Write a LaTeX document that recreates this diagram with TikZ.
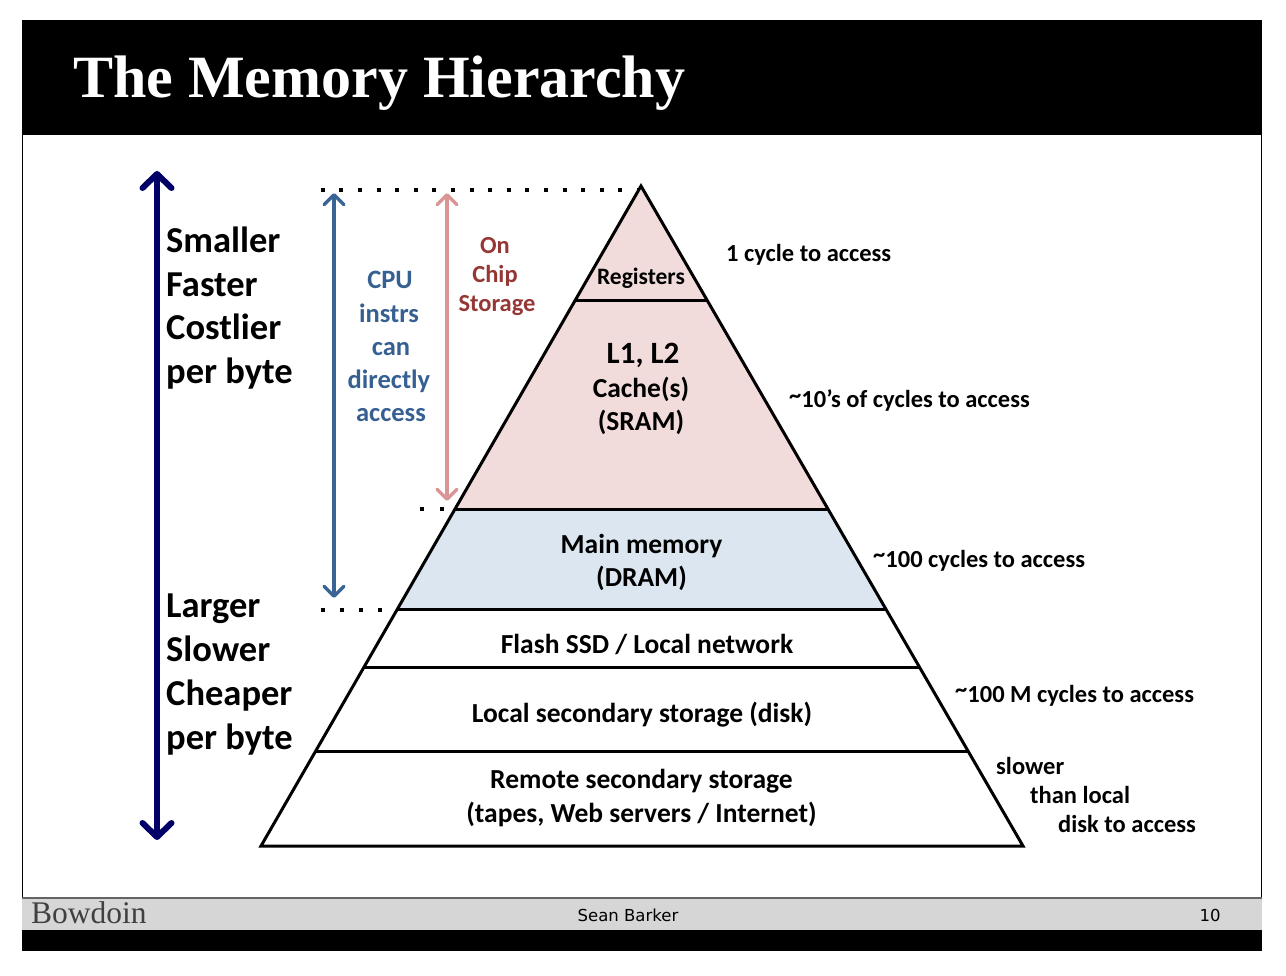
\documentclass[tikz,border=0pt]{standalone}
\usepackage{fontspec}
\setmainfont{Carlito}
\newfontfamily\titlefont{Liberation Serif}
\newfontfamily\footfont{DejaVu Sans}
\usetikzlibrary{arrows.meta}
\definecolor{navyarrow}{RGB}{0,0,102}
\definecolor{bluearrow}{RGB}{58,100,150}
\definecolor{pinkarrow}{RGB}{217,150,148}
\definecolor{redtext}{RGB}{149,55,53}
\definecolor{bluetext}{RGB}{55,96,146}
\definecolor{pinkfill}{RGB}{242,220,219}
\definecolor{bluefill}{RGB}{220,230,241}
\definecolor{footgray}{RGB}{214,214,214}
\definecolor{footline}{RGB}{100,100,100}
\newcommand{\tld}{\raisebox{0.35ex}{\char126}}
\tikzset{
  bigbarb/.tip={Straight Barb[length=14pt,width=29pt,round]},
  smallbarb/.tip={Straight Barb[length=10pt,width=20pt,round]}
}
\begin{document}
\begin{tikzpicture}[x=1pt,y=-1pt,
  sidetxt/.style={anchor=base west,inner sep=0pt,font=\bfseries\fontsize{36.5}{40}\selectfont},
  pyrtxt/.style={anchor=base,inner sep=0pt,font=\bfseries\fontsize{27.5}{30}\selectfont},
  costtxt/.style={anchor=base west,inner sep=0pt,font=\bfseries\fontsize{24.5}{28}\selectfont},
  cputxt/.style={anchor=base,inner sep=0pt,text=bluetext,font=\bfseries\fontsize{26.5}{30}\selectfont},
  chiptxt/.style={anchor=base,inner sep=0pt,text=redtext,font=\bfseries\fontsize{24.5}{28}\selectfont},
  layer/.style={line width=3pt},
  dots/.style={line width=4pt,dash pattern=on 4pt off 14.6pt}
]
\useasboundingbox (0,0) rectangle (1286,976);
% slide frame
\fill[black] (22,20) rectangle (1262,135);
\draw[line width=1.2pt] (22.6,135) -- (22.6,898);
\draw[line width=1.2pt] (1261.4,135) -- (1261.4,898);
\fill[footgray] (22,898) rectangle (1262,930);
\draw[footline,line width=2pt] (22,898) -- (1262,898);
\fill[black] (22,930) rectangle (1262,951);
\node[anchor=base west,inner sep=0pt,text=white,font=\titlefont\bfseries\fontsize{60}{60}\selectfont] (ttl) at (73,98) {The Memory Hierarchy};
\node[anchor=base west,inner sep=0pt,text=black!75,font=\titlefont\fontsize{31.5}{32}\selectfont] (bow) at (31,923) {Bowdoin};
\node[anchor=base,inner sep=0pt,font=\footfont\fontsize{16.5}{18}\selectfont] (auth) at (628,921) {Sean Barker};
\node[anchor=base,inner sep=0pt,font=\footfont\fontsize{16.5}{18}\selectfont] (pnum) at (1210,921) {10};

% pyramid coordinates
\coordinate (apex) at (641,186);
\coordinate (r1l) at (574.8,301); \coordinate (r1r) at (707.6,301);
\coordinate (r2l) at (455,509);   \coordinate (r2r) at (828,509);
\coordinate (r3l) at (397.4,609); \coordinate (r3r) at (885.8,609);
\coordinate (r4l) at (364,667);   \coordinate (r4r) at (919.4,667);
\coordinate (r5l) at (315.7,751); \coordinate (r5r) at (968,751);
\coordinate (bl) at (261,846);    \coordinate (br) at (1023,846);
\fill[pinkfill] (apex) -- (r2r) -- (r2l) -- cycle;
\fill[bluefill] (r2l) -- (r2r) -- (r3r) -- (r3l) -- cycle;
\draw[layer] (r1l) -- (r1r);
\draw[layer] (r2l) -- (r2r);
\draw[layer] (r3l) -- (r3r);
\draw[layer] (r4l) -- (r4r);
\draw[layer] (r5l) -- (r5r);
\draw[layer] (apex) -- (br) -- (bl) -- cycle;

% dotted guides
\coordinate (d1a) at (320.7,190); \coordinate (d1b) at (638,190);
\coordinate (d2a) at (420,508.5); \coordinate (d2b) at (446,508.5);
\coordinate (d3a) at (320.7,609.5); \coordinate (d3b) at (385,609.5);
\draw[dots] (d1a) -- (d1b);
\draw[line width=4pt,dash pattern=on 4pt off 15.7pt] (d2a) -- (d2b);
\draw[line width=4pt,dash pattern=on 4pt off 15.1pt] (d3a) -- (d3b);

% arrows
\coordinate (navt) at (157,171); \coordinate (navb) at (157,840);
\draw[navyarrow,line width=6pt,{bigbarb}-{bigbarb}] (navt) -- (navb);
\coordinate (cput) at (334,193); \coordinate (cpub) at (334,598);
\draw[bluearrow,line width=3.5pt,{smallbarb}-{smallbarb}] (cput) -- (cpub);
\coordinate (chpt) at (447,193); \coordinate (chpb) at (447,501);
\draw[pinkarrow,line width=3.5pt,{smallbarb}-{smallbarb}] (chpt) -- (chpb);

% left labels
\node[sidetxt] (s1) at (166,253) {Smaller};
\node[sidetxt] (s2) at (166,297) {Faster};
\node[sidetxt] (s3) at (166,340) {Costlier};
\node[sidetxt] (s4) at (166,384) {per byte};
\node[sidetxt] (s5) at (166,617) {Larger};
\node[sidetxt] (s6) at (166,661) {Slower};
\node[sidetxt] (s7) at (166,705) {Cheaper};
\node[sidetxt] (s8) at (166,749) {per byte};

% CPU text
\node[cputxt] (c1) at (390,289) {CPU};
\node[cputxt] (c2) at (389,322.5) {instrs};
\node[cputxt] (c3) at (391,355.5) {can};
\node[cputxt] (c4) at (389,388.5) {directly};
\node[cputxt] (c5) at (391,421) {access};
% on chip
\node[chiptxt] (o1) at (495,254) {On};
\node[chiptxt] (o2) at (495,283) {Chip};
\node[chiptxt] (o3) at (497,312) {Storage};

% pyramid labels
\node[anchor=base,inner sep=0pt,font=\bfseries\fontsize{23.5}{26}\selectfont] (reg) at (641,285) {Registers};
\node[anchor=base,inner sep=0pt,font=\bfseries\fontsize{31}{34}\selectfont] (l12) at (643,364) {L1, L2};
\node[pyrtxt] (cache) at (641,398) {Cache(s)};
\node[pyrtxt] (sram) at (641,431) {(SRAM)};
\node[pyrtxt] (mm) at (641.5,553) {Main memory};
\node[pyrtxt] (dram) at (641.5,586) {(DRAM)};
\node[pyrtxt] (flash) at (647,653) {Flash SSD / Local network};
\node[pyrtxt] (disk) at (642,722) {Local secondary storage (disk)};
\node[pyrtxt] (rem1) at (641.5,788.5) {Remote secondary storage};
\node[pyrtxt] (rem2) at (641.5,822) {(tapes, Web servers / Internet)};

% access costs
\node[costtxt] (a1) at (726,262) {1 cycle to access};
\node[costtxt] (a2) at (789,408) {\tld 10’s of cycles to access};
\node[costtxt] (a3) at (873,567) {\tld 100 cycles to access};
\node[costtxt] (a4) at (955,702) {\tld 100 M cycles to access};
\node[costtxt] (a5) at (996,774) {slower};
\node[costtxt] (a6) at (1030,803) {than local};
\node[costtxt] (a7) at (1058,832) {disk to access};
\end{tikzpicture}
\end{document}
